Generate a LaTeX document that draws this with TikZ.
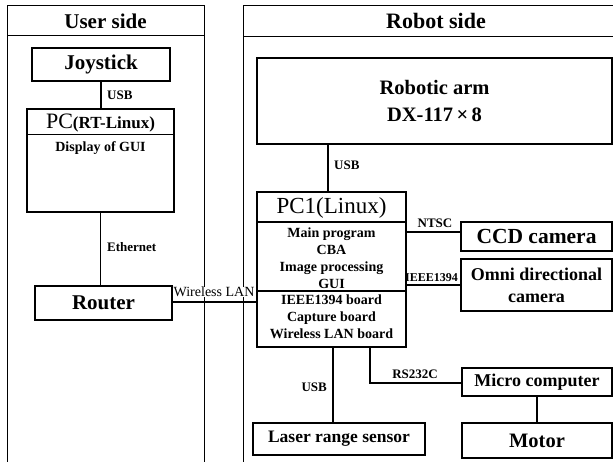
\documentclass[tikz,border=0pt]{standalone}
\usepackage{fontspec}
\setmainfont{Liberation Serif}
\usepackage{tikz}
\definecolor{SysLine}{HTML}{000000}
\definecolor{SysPaper}{HTML}{FFFFFF}
\newcommand{\fsz}[2]{\fontsize{#1}{#2}\selectfont}

\begin{document}
\begin{tikzpicture}[x=1pt,y=-1pt,
    box/.style={draw=SysLine,line width=1.5pt,fill=SysPaper,inner sep=0pt},
    link/.style={SysLine,line width=1.5pt},
    panel/.style={SysLine,line width=1pt},
    tag/.style={font=\bfseries\fsz{13}{15},inner sep=0pt}]
    \useasboundingbox[fill=SysPaper] (0,0) rectangle (613,462);

    % the two sides
    \draw[panel] (7,462) -- (7,6) -- (204,6) -- (204,462);
    \draw[panel] (7,36) -- (204,36);
    \draw[panel] (243,462) -- (243,6) -- (613,6);
    \draw[panel] (243,37) -- (613,37);
    \node[font=\bfseries\fsz{21}{24}] (userhead) at (105.5,21) {User side};
    \node[font=\bfseries\fsz{22}{24}] (robothead) at (436,21) {Robot side};

    % user side
    \node[box,minimum width=138,minimum height=33,font=\bfseries\fsz{21}{24}] (joystick) at (101,64.5) {Joystick};
    \node[box,minimum width=147,minimum height=103] (pcuser) at (100.5,160.5) {};
    \draw[panel] (27,135) -- (174,135);
    \node (pctitle) at (100.5,123) {{\fsz{22}{24}PC}{\bfseries\fsz{17}{20}(RT-Linux)}};
    \node[font=\bfseries\fsz{14}{17}] (pcgui) at (100.5,148) {Display of GUI};
    \node[box,minimum width=137,minimum height=34,font=\bfseries\fsz{21}{24}] (router) at (103.5,303) {Router};

    % robot side
    \node[box,minimum width=355,minimum height=86,align=center,font=\bfseries\fsz{20.5}{27}] (arm) at (434.5,101) {Robotic arm\\DX-117\,×\,8};
    \node[box,minimum width=149,minimum height=155] (pcone) at (331.5,269.5) {};
    \draw[link,line width=1.2pt] (257,222) -- (406,222);
    \draw[link,line width=1.2pt] (257,291) -- (406,291);
    \node[font=\fsz{23}{26}] (pconetitle) at (331.5,207.5) {PC1(Linux)};
    \node[align=center,font=\bfseries\fsz{14}{17}] (pconesoft) at (331.5,258) {Main program\\CBA\\Image processing\\GUI};
    \node[align=center,font=\bfseries\fsz{14}{17}] (pconeboard) at (331.5,317) {IEEE1394 board\\Capture board\\Wireless LAN board};
    \node[box,minimum width=151,minimum height=29,font=\bfseries\fsz{21.5}{24}] (ccd) at (536.5,236.5) {CCD camera};
    \node[box,minimum width=151,minimum height=52,align=center,font=\bfseries\fsz{18}{22}] (omni) at (536.5,285) {Omni directional\\camera};
    \node[box,minimum width=150,minimum height=28,font=\bfseries\fsz{18}{21}] (micro) at (537,382) {Micro computer};
    \node[box,minimum width=150,minimum height=35,font=\bfseries\fsz{20.5}{24}] (motor) at (537,440.5) {Motor};
    \node[box,minimum width=172,minimum height=32,font=\bfseries\fsz{17.5}{20}] (laser) at (339,439) {Laser range sensor};

    % connections
    \draw[link] (joystick.south) -- (joystick.south |- pcuser.north);
    \node[tag,anchor=west] (usbjoy) at (107,95) {USB};
    \draw[link] (pcuser.south) -- (pcuser.south |- router.north);
    \node[tag,anchor=west] (ethernet) at (107,247) {Ethernet};
    \draw[link] ([yshift=1pt]router.east) -- ([yshift=1pt]router.east -| pcone.west);
    \node[anchor=west,fill=SysPaper,inner sep=0.5pt,font=\fsz{14}{16}] (wlan) at (173,292) {Wireless LAN};
    \draw[link] ([xshift=-3.5pt]pcone.north) -- ([xshift=-3.5pt]pcone.north |- arm.south);
    \node[tag,anchor=west] (usbarm) at (334,165) {USB};
    \draw[link] ([yshift=4.5pt]ccd.west) -- ([yshift=4.5pt]ccd.west -| pcone.east);
    \node[tag] (ntsc) at (435,223) {NTSC};
    \draw[link] (omni.west) -- (omni.west -| pcone.east);
    \node[tag,font=\bfseries\fsz{12}{14}] (ieee) at (431.5,278) {IEEE1394};
    \draw[link] ([xshift=1.5pt]pcone.south) -- ([xshift=1.5pt]pcone.south |- laser.north);
    \node[tag,anchor=east] (usblaser) at (327,387) {USB};
    \draw[link] ([xshift=38.5pt]pcone.south) |- ([yshift=-1pt]micro.west);
    \node[tag] (rs) at (415,374) {RS232C};
    \draw[link] (micro.south) -- (motor.north);
\end{tikzpicture}
\end{document}
